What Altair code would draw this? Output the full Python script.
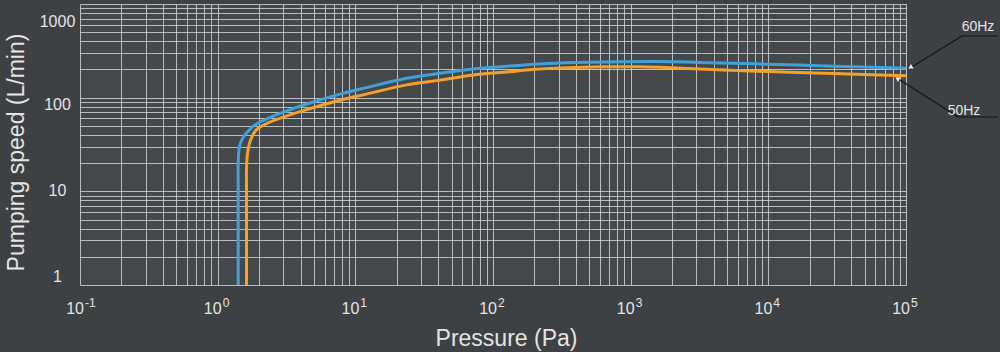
import altair as alt
import pandas as pd

# ---- data ----
p60 = [1.41, 1.41, 1.41, 1.44, 1.52, 1.62, 1.8, 2.03, 2.5, 3.0, 4.5, 7.73, 12, 23.6, 40, 71.8, 120, 219, 400, 668, 1629, 3150, 10000, 30000, 100000]
s60 = [1, 10, 20, 30, 37, 42, 49, 55, 63, 70, 86, 109, 128, 161, 181, 202, 215, 229, 237, 241, 243, 238, 228, 217, 206]
p50 = [1.62, 1.62, 1.62, 1.64, 1.68, 1.73, 1.9, 2.27, 3.0, 3.96, 7.73, 12, 23.6, 40, 71.8, 120, 219, 400, 668, 1100, 1629, 3150, 10000, 30000, 100000]
s50 = [1, 10, 17, 24, 30, 35, 45, 53, 62, 71, 94, 109, 137, 153, 175, 187, 202, 210, 214, 214, 211, 202, 190, 181, 171]
series = ["60Hz", "50Hz"]
series_colors = ["#3aa3de", "#f5a126"]

x_decades = [-1, 0, 1, 2, 3, 4, 5]
y_labels = [1, 10, 100, 1000]

x_title = "Pressure (Pa)"
y_title = "Pumping speed (L/min)"

# ---- tables ----
rows = []
for i, (p, s) in enumerate(zip(p60, s60)):
    rows.append({"P": p, "S": s, "series": series[0], "idx": i})
for i, (p, s) in enumerate(zip(p50, s50)):
    rows.append({"P": p, "S": s, "series": series[1], "idx": i})
curves = pd.DataFrame(rows)

x_grid = []
for k in range(-1, 5):
    for m in range(1, 10):
        x_grid.append(round(m * 10 ** k, 6))
x_grid.append(100000)
y_grid = []
for k in range(0, 3):
    for m in range(1, 10):
        y_grid.append(m * 10 ** k)
y_grid.append(1000)

xlab = pd.DataFrame({"P": [10.0 ** k for k in x_decades],
                     "base": ["10"] * len(x_decades),
                     "exp": [str(k) for k in x_decades]})

FONT = "Liberation Sans"
TXT = "#e4e4e4"

xscale = alt.Scale(type="log", domain=[0.1, 100000], nice=False)
yscale = alt.Scale(type="log", domain=[1, 1000], nice=False)

xenc = alt.X("P:Q", scale=xscale,
             axis=alt.Axis(values=x_grid, labels=False, ticks=False, domain=False,
                           title=x_title, titleFontSize=23, titleFont=FONT,
                           titleColor=TXT, titleFontWeight="normal",
                           titleX=426, titleY=60, titleAlign="center",
                           titleBaseline="alphabetic"))

yexpr = "indexof(" + str(y_labels) + ", datum.value) >= 0 ? datum.label : ''"
yoffset = {"condition": [{"test": "datum.value == 1000", "value": 17},
                         {"test": "datum.value == 100", "value": 7},
                         {"test": "datum.value == 1", "value": -9}],
           "value": -1}
yenc = alt.Y("S:Q", scale=yscale,
             axis=alt.Axis(values=y_grid, format="d", labelExpr=yexpr, ticks=False,
                           domain=False, labelAlign="center", labelPadding=23,
                           labelBaseline="middle", labelFontSize=16, labelFont=FONT,
                           labelColor=TXT, labelOffset=yoffset,
                           title=y_title, titleFontSize=23, titleFont=FONT,
                           titleColor=TXT, titleFontWeight="normal",
                           titleAngle=-90, titleX=-57, titleY=148,
                           titleAlign="center", titleBaseline="alphabetic"))

lines = alt.Chart(curves).mark_line(strokeWidth=3, interpolate="catmull-rom").encode(
    x=xenc,
    y=yenc,
    color=alt.Color("series:N", scale=alt.Scale(domain=series, range=series_colors), legend=None),
    order="idx:Q",
)

xbase = alt.Chart(xlab).mark_text(align="right", dx=4, baseline="alphabetic",
                                   fontSize=16, font=FONT, color=TXT).encode(
    x=alt.X("P:Q", scale=xscale), y=alt.value(310), text="base:N")
xexp = alt.Chart(xlab).mark_text(align="left", dx=5, baseline="alphabetic",
                                  fontSize=12, font=FONT, color=TXT).encode(
    x=alt.X("P:Q", scale=xscale), y=alt.value(303), text="exp:N")

ann = pd.DataFrame({"label": ["60Hz"]})
ann2 = pd.DataFrame({"label": ["50Hz"]})
LC = "#141414"

t60 = alt.Chart(ann).mark_text(align="center", baseline="alphabetic", fontSize=14,
                               font=FONT, color=TXT).encode(
    x=alt.value(898), y=alt.value(27), text="label:N")
r60a = alt.Chart(ann).mark_rule(color=LC, strokeWidth=1.2).encode(
    x=alt.value(882), y=alt.value(32), x2=alt.value(830), y2=alt.value(64))
r60b = alt.Chart(ann).mark_rule(color=LC, strokeWidth=1.2).encode(
    x=alt.value(882), y=alt.value(32), x2=alt.value(918), y2=alt.value(32))
a60 = alt.Chart(ann).mark_point(shape="triangle", filled=True, size=28, angle=238,
                                color="#f0f0f0", opacity=1).encode(
    x=alt.value(831), y=alt.value(63))

t50 = alt.Chart(ann2).mark_text(align="center", baseline="alphabetic", fontSize=14,
                                font=FONT, color=TXT).encode(
    x=alt.value(884), y=alt.value(111), text="label:N")
r50a = alt.Chart(ann2).mark_rule(color=LC, strokeWidth=1.2).encode(
    x=alt.value(817), y=alt.value(74), x2=alt.value(878), y2=alt.value(113))
r50b = alt.Chart(ann2).mark_rule(color=LC, strokeWidth=1.2).encode(
    x=alt.value(878), y=alt.value(113), x2=alt.value(918), y2=alt.value(113))
a50 = alt.Chart(ann2).mark_point(shape="triangle", filled=True, size=28, angle=303,
                                 color="#f0f0f0", opacity=1).encode(
    x=alt.value(818), y=alt.value(75))

chart = alt.layer(lines, xbase, xexp, r60a, r60b, a60, t60, r50a, r50b, a50, t50).properties(
    width=826, height=281,
    autosize=alt.AutoSizeParams(type="none"),
    padding={"left": 80, "top": 4, "right": 94, "bottom": 67},
    background="#3e4144",
).configure_view(
    fill="#45484b", stroke=None
).configure_axis(
    grid=True, gridColor="#cfd1d2", gridOpacity=0.85, gridWidth=1,
)

chart.save("out.html", embed_options={"renderer": "svg", "actions": False})
